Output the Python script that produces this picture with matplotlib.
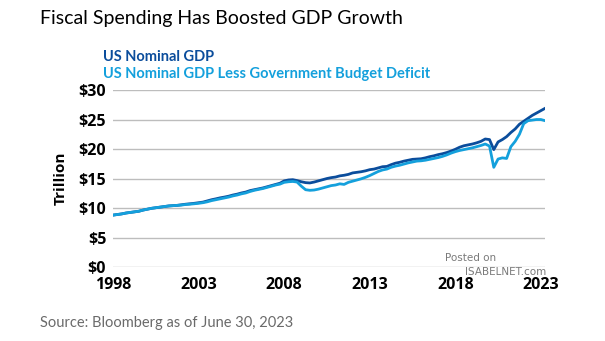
import numpy as np
import matplotlib.pyplot as plt

# quarterly values, 1998 Q1 .. 2023 Q2 (trillions USD)
start_year = 1998
gdp = [8.80, 8.90, 9.00, 9.15,
       9.25, 9.35, 9.45, 9.65,
       9.80, 9.95, 10.05, 10.15,
       10.25, 10.35, 10.40, 10.45,
       10.55, 10.65, 10.72, 10.80,
       10.90, 11.00, 11.20, 11.40,
       11.55, 11.72, 11.85, 12.00,
       12.20, 12.35, 12.55, 12.70,
       12.95, 13.10, 13.25, 13.40,
       13.60, 13.80, 14.00, 14.20,
       14.60, 14.75, 14.80, 14.65,
       14.45, 14.30, 14.25, 14.40,
       14.60, 14.80, 15.00, 15.15,
       15.25, 15.45, 15.55, 15.70,
       15.95, 16.05, 16.15, 16.30,
       16.50, 16.60, 16.80, 17.00,
       17.05, 17.35, 17.60, 17.75,
       17.95, 18.10, 18.25, 18.30,
       18.35, 18.50, 18.70, 18.85,
       19.05, 19.20, 19.40, 19.65,
       19.95, 20.30, 20.55, 20.70,
       20.85, 21.05, 21.30, 21.70,
       21.60, 19.90, 21.20, 21.60,
       22.10, 22.80, 23.40, 24.20,
       24.70, 25.20, 25.70, 26.10,
       26.50, 26.90]
gdp_less_deficit = [8.80, 8.90, 9.00, 9.15,
                    9.25, 9.35, 9.45, 9.65,
                    9.80, 9.95, 10.05, 10.15,
                    10.25, 10.35, 10.40, 10.45,
                    10.50, 10.60, 10.65, 10.72,
                    10.80, 10.90, 11.05, 11.25,
                    11.40, 11.55, 11.70, 11.85,
                    12.05, 12.20, 12.40, 12.55,
                    12.80, 13.00, 13.15, 13.30,
                    13.50, 13.70, 13.90, 14.05,
                    14.35, 14.45, 14.50, 14.40,
                    13.70, 13.10, 13.00, 13.05,
                    13.20, 13.40, 13.60, 13.80,
                    13.90, 14.10, 14.00, 14.35,
                    14.55, 14.75, 14.95, 15.20,
                    15.50, 15.85, 16.20, 16.45,
                    16.60, 16.90, 17.10, 17.25,
                    17.45, 17.65, 17.80, 17.95,
                    18.00, 18.10, 18.25, 18.40,
                    18.55, 18.75, 19.00, 19.30,
                    19.55, 19.75, 19.90, 20.05,
                    20.20, 20.40, 20.60, 20.85,
                    20.50, 16.90, 18.30, 18.50,
                    18.40, 20.40, 21.30, 22.50,
                    24.30, 24.80, 24.90, 25.00,
                    25.00, 24.80]
year_ticks = [1998, 2003, 2008, 2013, 2018, 2023]
y_ticks = [0, 5, 10, 15, 20, 25, 30]

dark = '#0b4d9c'
light = '#14a0dc'
font = 'Open Sans'
font2 = 'Lato'

x = start_year + np.arange(len(gdp)) * 0.25

fig = plt.figure(figsize=(6.05, 3.41), dpi=100)
ax = fig.add_axes([0.187, 0.217, 0.714, 0.519])

ax.plot(x, gdp, color=dark, lw=2.0, zorder=3)
ax.plot(x, gdp_less_deficit, color=light, lw=2.0, zorder=4)

ax.set_xlim(start_year, x[-1])
ax.set_ylim(0, 30)
ax.set_xticks(year_ticks)
ax.set_yticks(y_ticks)
ax.set_yticklabels(['$%d' % v for v in y_ticks])
ax.yaxis.grid(True, color='#bdbdbd', lw=1.0)
ax.set_axisbelow(True)
for s in ax.spines.values():
    s.set_visible(False)
ax.tick_params(length=0, labelsize=11.5)
ax.tick_params(axis='y', pad=5)
ax.tick_params(axis='x', pad=7)
for lab in ax.get_xticklabels() + ax.get_yticklabels():
    lab.set_fontweight('bold')
    lab.set_family(font)
ax.set_ylabel('Trillion', fontsize=11, fontweight='bold', family=font, labelpad=8)

fig.text(0.066, 0.945, 'Fiscal Spending Has Boosted GDP Growth', fontsize=14,
         family=font2, color='black', va='center')
fig.text(0.17, 0.833, 'US Nominal GDP', fontsize=10.5, fontweight='bold',
         family=font2, color=dark, va='center')
fig.text(0.17, 0.783, 'US Nominal GDP Less Government Budget Deficit', fontsize=10.5,
         fontweight='bold', family=font2, color=light, va='center')
fig.text(0.066, 0.052, 'Source: Bloomberg as of June 30, 2023', fontsize=10.5,
         family=font2, color='#6a6a6a', va='center')

fig.text(0.777, 0.242, 'Posted on', fontsize=7.5, color='#7a7a7a', ha='center', va='center')
fig.text(0.835, 0.203, 'ISABELNET.com', fontsize=7.5, color='#7a7a7a', ha='center', va='center')

fig.savefig('out.png', dpi=100)
